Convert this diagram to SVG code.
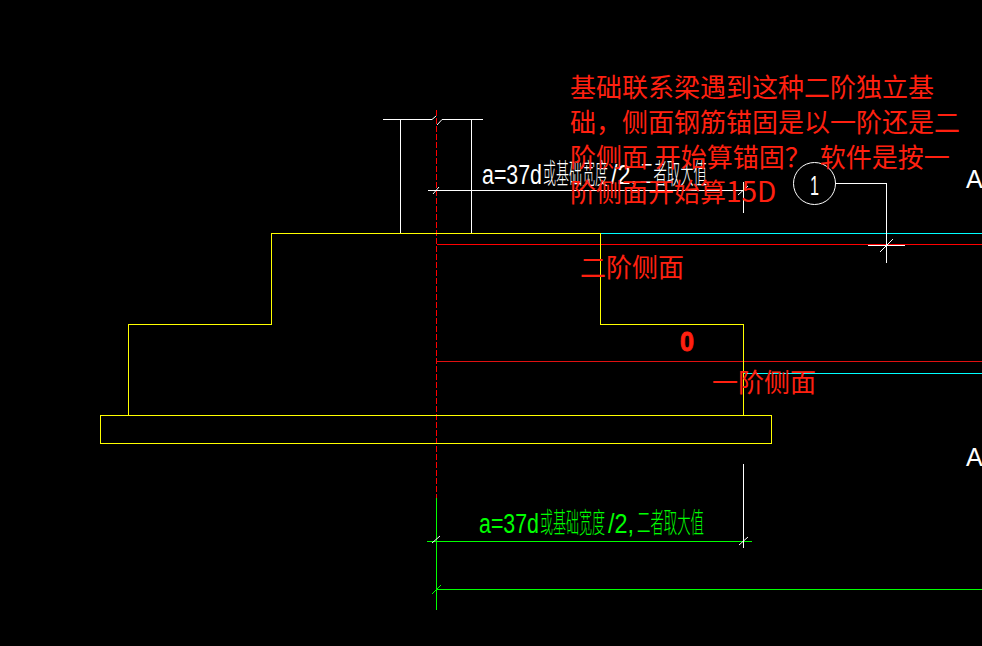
<svg xmlns="http://www.w3.org/2000/svg" width="982" height="646" viewBox="0 0 982 646">
<style>
.l{fill:none;stroke-width:1;shape-rendering:crispEdges}
.t{fill:none;stroke-width:1}
.w{stroke:#fff}.y{stroke:#ff0}.c{stroke:#0ff}.r{stroke:#f00}.g{stroke:#0f0}
.red{font-family:"Noto Sans CJK SC","Liberation Sans",sans-serif;font-size:26px;fill:#ff2010}
.cad{font-family:"Noto Sans CJK SC","Liberation Sans",sans-serif;font-size:28px;font-weight:300}
.lat{font-family:"Liberation Sans",sans-serif;font-weight:400;font-size:27px}
.ltr{font-family:"Liberation Sans",sans-serif;font-size:25px;fill:#fff}
</style>
<rect width="982" height="646" fill="#000"/>
<g id="connectors">
<path class="l c" d="M600 233.5H982M743 373.5H982"/>
<path class="l r" d="M437 244.5H982"/>
<path class="l" stroke="#e01010" d="M437 361.5H982"/>
<path class="l r" stroke-dasharray="6 2" d="M436.5 110V498"/>
<path class="l g" d="M436.5 498V610M427 541.5H752M437 589.5H982"/>
<path class="l w" d="M428 190.5H743M743.5 182V213M743.5 464V548M835 183.5H886.5V263M868 245.5H905"/>
<path class="t w" d="M433 194L439 187M738 195L748 186"/>
<path class="t w" d="M880 252L893 239"/>
<path class="t w" d="M432 543L440 536M739 545L748 537"/>
<path class="t g" d="M432 594L441 585"/>
</g>
<g id="column">
<path class="l w" d="M400.5 119V233M471.5 119V233M383 119.5H432M442 119.5H483"/>
<path class="t w" d="M432 119.5L436 116M437 125L442 119.5"/>
</g>
<g id="footing">
<path class="l y" d="M128.5 415V324.5H271.5V233.5H600.5V324.5H743.5V415"/>
<rect class="l y" x="100.5" y="415.5" width="671" height="28"/>
</g>
<g id="bubble">
<circle class="t w" cx="814.5" cy="183.5" r="21"/>
<text class="ltr" x="810" y="195" style="font-size:28px" textLength="9" lengthAdjust="spacingAndGlyphs">1</text>
</g>
<g id="axis-labels">
<text class="ltr" x="966" y="188">A</text>
<text class="ltr" x="966" y="466">A</text>
</g>
<g id="dim-white">
<text class="cad" y="184" fill="#fff"><tspan class="lat" x="482" textLength="60" lengthAdjust="spacingAndGlyphs">a=37d</tspan><tspan x="543" textLength="65" lengthAdjust="spacingAndGlyphs">或基础宽度</tspan><tspan class="lat" x="611" textLength="26" lengthAdjust="spacingAndGlyphs">/2,</tspan><tspan x="640" textLength="67" lengthAdjust="spacingAndGlyphs">二者取大值</tspan></text>
</g>
<g id="dim-green">
<text class="cad" y="533" fill="#0f0"><tspan class="lat" x="479" textLength="60" lengthAdjust="spacingAndGlyphs">a=37d</tspan><tspan x="540" textLength="65" lengthAdjust="spacingAndGlyphs">或基础宽度</tspan><tspan class="lat" x="608" textLength="26" lengthAdjust="spacingAndGlyphs">/2,</tspan><tspan x="637" textLength="67" lengthAdjust="spacingAndGlyphs">二者取大值</tspan></text>
</g>
<g id="note">
<text class="red" x="570" y="97">基础联系梁遇到这种二阶独立基</text>
<text class="red" x="570" y="132">础，侧面钢筋锚固是以一阶还是二</text>
<text class="red" x="570" y="167">阶侧面 <tspan dx="1">开始算锚固？</tspan> <tspan dx="3">软件是按一</tspan></text>
<text class="red" x="570" y="202">阶侧面开始算<tspan style="font-size:28px">15D</tspan></text>
</g>
<g id="labels">
<text class="red" x="580" y="277">二阶侧面</text>
<text class="red" x="712" y="392">一阶侧面</text>
<text x="680" y="351" font-family="Liberation Sans,sans-serif" font-weight="700" font-size="27" fill="#ff2010" stroke="#ff2010" stroke-width="0.8" textLength="14" lengthAdjust="spacingAndGlyphs">0</text>
</g>
</svg>
